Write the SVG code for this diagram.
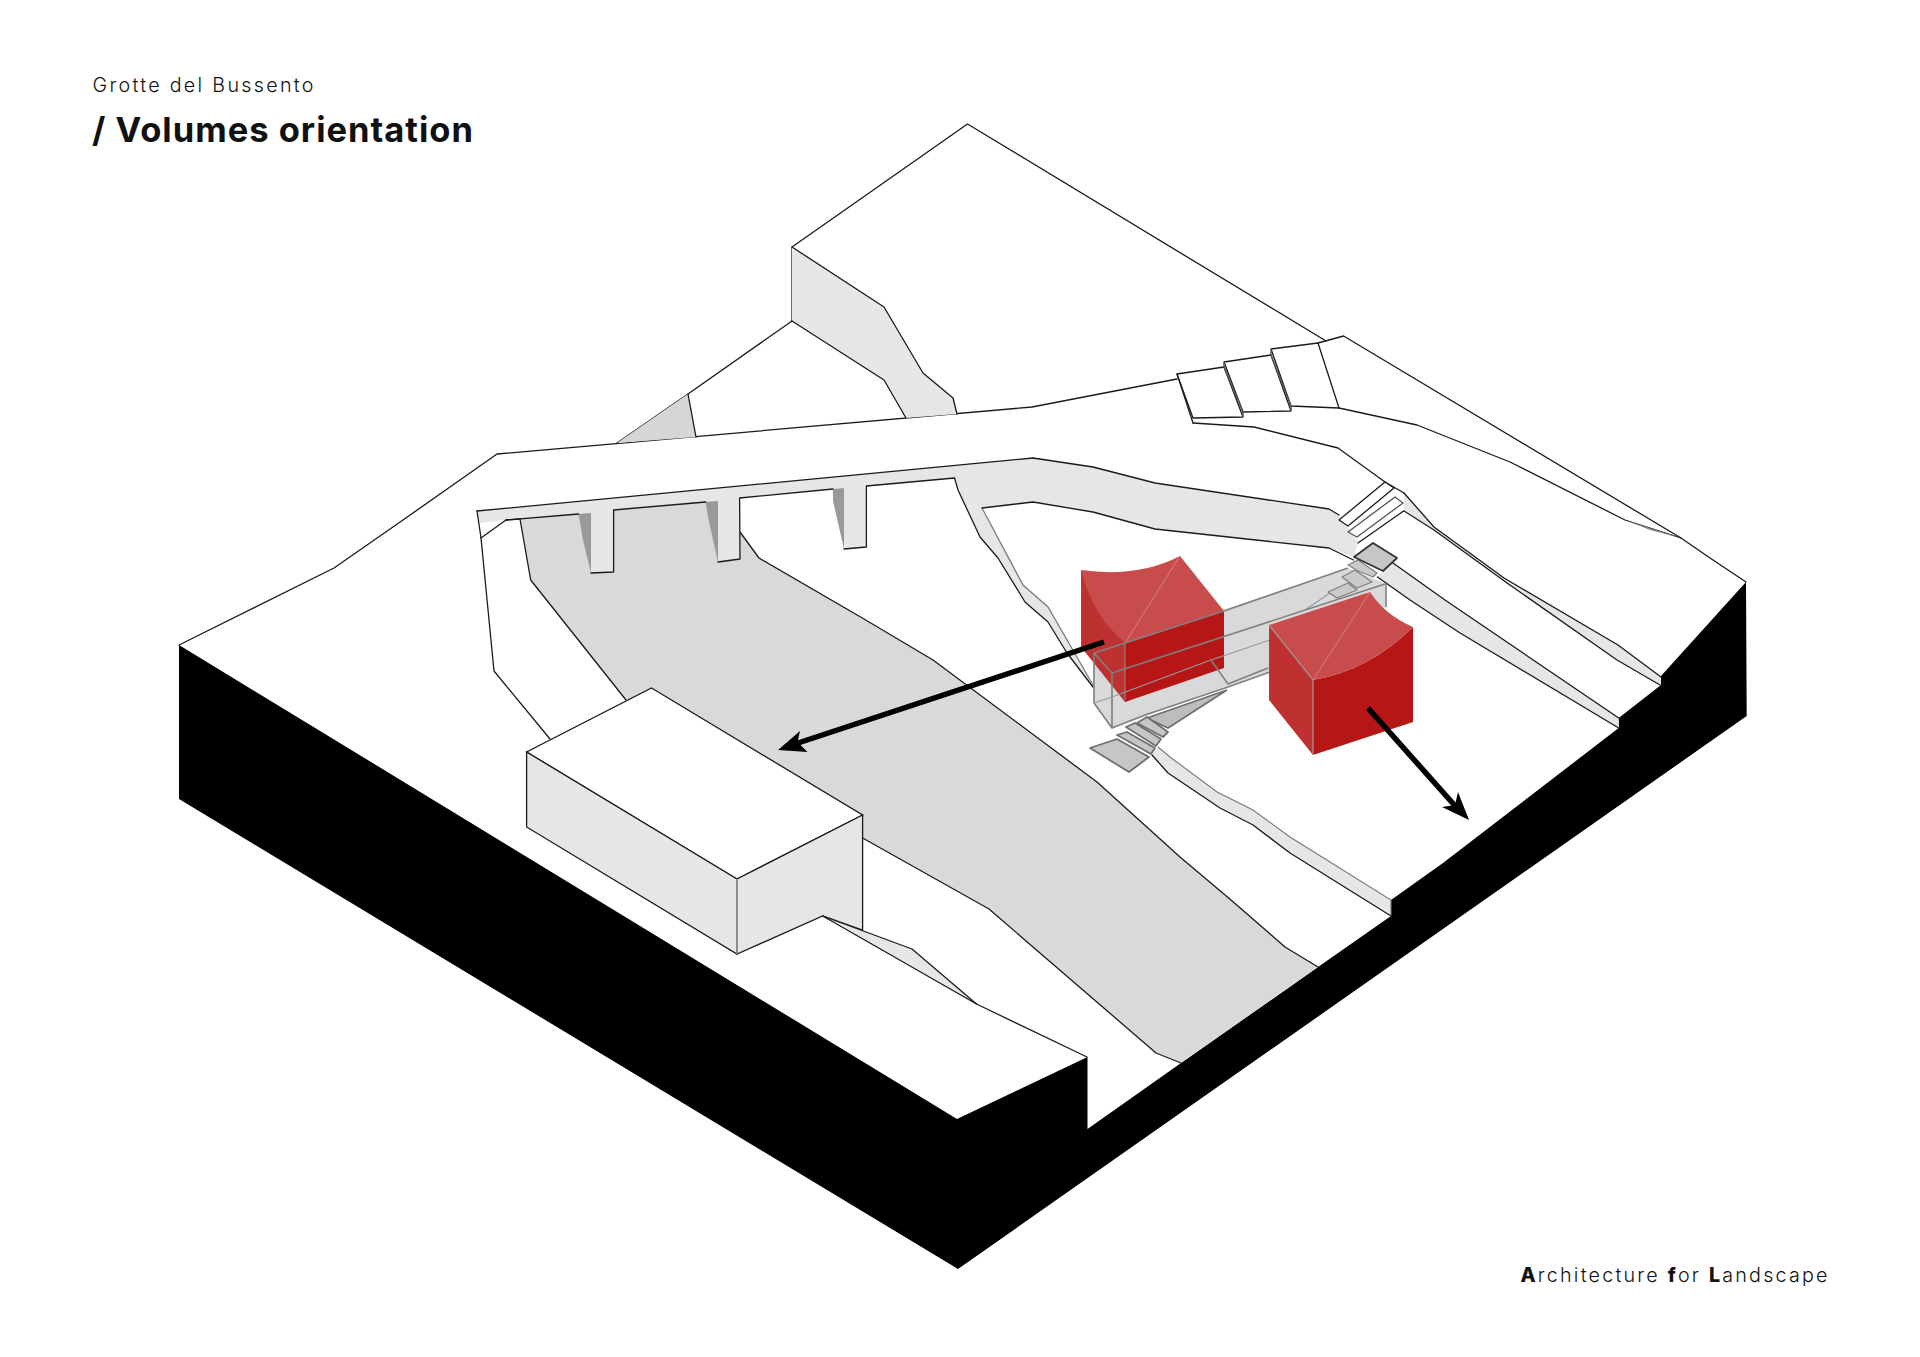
<svg xmlns="http://www.w3.org/2000/svg" width="1920" height="1357" viewBox="0 0 1920 1357">
<style>
.l{fill:none;stroke:#1a1a1a;stroke-width:1.3;stroke-linejoin:round;stroke-linecap:round}
.g{fill:#e6e6e6;stroke:none}
.w{fill:#fff;stroke:#1a1a1a;stroke-width:1.3;stroke-linejoin:round}
.sh{fill:#999;stroke:none}
.pad{fill:#c6c6c6;stroke:#6e6e6e;stroke-width:1.8;stroke-linejoin:round}
.pad2{fill:#cacaca;stroke:#808080;stroke-width:1.3;stroke-linejoin:round}
.gl{fill:none;stroke:#808080;stroke-width:1.6;stroke-linejoin:round}
.gl2{fill:none;stroke:#999;stroke-width:1.2;stroke-linejoin:round}
.t{font-family:"Inter","Open Sans",sans-serif;fill:#111;font-variant-ligatures:none}
.arrow{stroke:#000;stroke-width:5.5;fill:none}
</style>
<rect width="1920" height="1357" fill="#fff"/>

<g id="base">
<polygon fill="#000" points="179,645 957,1119 1087.5,1057 1087.5,1129 1181,1063 1318,967 1391,916 1391,900 1443,863 1618.7,728 1618.7,718 1661,685 1661,676 1746,582 1746.7,716 958,1269 179,799"/>
</g>

<g id="terrain">
<polyline class="l" points="179,645 334,568 403,520 497,454 1032,407 1177,379"/>
<polyline class="l" points="617,443 688,394 792,321"/>
<polygon class="g" points="617,443 688,394 696,437" style="fill:#d6d6d6"/>
<polyline class="l" points="688,394 696,437"/>
<polyline class="l" points="792,321 792,247 967.5,124 1326,341"/>
<polyline class="l" points="1318,343 1343.6,336 1681,538 1710,558 1746,582"/>
<polygon class="g" points="792,247 884,307 923,373 953,398 957,414 906,418 884,380 792,321"/>
<polyline class="l" points="792,247 884,307 923,373 953,398 957,414"/>
<polyline class="l" points="792,321 884,380 906,418"/>
<polyline class="l" points="1339,408 1417,425 1510,462 1625,520 1681,538"/>
<polygon points="1625,520 1681,538 1650,530" fill="#888"/>
<polyline class="l" points="1193,423 1254,427 1338,448 1385,482 1404,493"/>
</g>

<g id="steps-top">
<polygon class="w" points="1177,374 1224,367 1243,417 1193,418"/>
<polygon class="w" points="1224,362 1271,355 1291,411 1243,412"/>
<polygon class="w" points="1271,349 1318,343 1339,408 1291,406"/>
<polyline class="l" points="1177,374 1193,423"/>
<polyline points="1224,362 1224,367 1243,412 1243,417" fill="none" stroke="#555" stroke-width="1.5"/>
<polyline points="1271,349 1271,355 1291,406 1291,411" fill="none" stroke="#555" stroke-width="1.5"/>
</g>

<g id="river">
<polygon fill="#d9d9d9" points="520,519 740,495 740,532 759,558 864,619 933,660 1097,782 1180,857 1231,900 1285,947 1318,967 1181,1063 1156,1053 989,909 862.6,838 800,790 626,700 530.7,580"/>
<polyline class="l" points="520,519 530.7,580 626,700"/>
<polyline class="l" points="740,532 759,558 864,619 933,660 1097,782 1180,857 1231,900 1285,947 1318,967"/>
<polyline class="l" points="862.6,838 989,909 1156,1053 1181,1063"/>
</g>

<g id="road-bridge">
<polygon class="g" points="477,511 1033,458 1093,467 1155,483 1329,509 1339,515 1358,542 1354,557 1329,548 1155,529 1093,512 1033,502 982,508 1023,585 1048,607 1093,685 1067,653 1048,622 1025,602 998,558 980,537 958,490 956,478 866.4,486 866.4,547 844,549 844,488 739.6,498 740,559 718,562 718,501 613.6,510 613.6,572 591,573 591,513 506,520 478.6,523"/>
<polygon class="sh" points="578.6,514 591,513 591,573 583,540"/>
<polygon class="sh" points="705.7,502 718,501 718,562 708,517"/>
<polygon class="sh" points="833,489 844,488 844,549 833,501"/>
<polyline class="l" points="477,511 1033,458 1093,467 1155,483 1329,509 1339,515"/>
<polyline class="l" points="506,520 578.6,514"/>
<polyline class="l" points="591,573 613.6,572 613.6,510 705.7,502"/>
<polyline class="l" points="718,562 740,559 739.6,498 833,489"/>
<polyline class="l" points="844,549 866.4,547 866.4,486 954.6,478 958,490 980,537 998,558 1025,602 1048,622 1067,653 1093,687"/>
<polyline class="l" points="477,511 481,538 494,671 550,739"/>
<polyline class="l" points="481,538 506,520 520,519"/>
<polyline points="982,508 1023,585 1048,607 1093,685" fill="none" stroke="#777" stroke-width="1.2"/>
<polyline class="l" points="982,508 1033,502 1093,512 1155,529 1329,548 1353.5,560"/>
</g>

<g id="crossings">
<polygon class="w" points="1385,482 1339,520 1348,526 1394,488"/>
<polygon class="w" points="1395,497 1403,503 1357,537 1348,532" style="stroke:#555"/>
<polyline class="l" points="1405,510 1358,543"/>
</g>

<g id="side-roads">
<polygon class="g" points="1404,493 1434,527 1504,578 1618,645 1661,677 1661,685 1617,660 1507,583 1434,530 1404,511"/>
<polyline class="l" points="1404,493 1434,527 1504,578 1618,645 1661,677"/>
<polyline class="l" points="1404,511 1434,530 1507,583 1617,660 1660,685"/>
<polygon class="g" points="1393,563 1445,600 1618.7,718 1618.7,728 1460,633 1410,600 1377.5,577"/>
<polyline class="l" points="1393,563 1445,600 1618.7,718"/>
<polyline class="l" points="1377.5,577 1410,600 1460,633 1618.7,728"/>
<polygon class="g" points="1158,747 1170,757 1217,792 1253,810 1290,837 1391,900 1391,916 1290,853 1253,825 1220,808 1168,773 1152,755"/>
<polyline points="1158,747 1170,757 1217,792 1253,810 1290,837 1391,900 1391,916" fill="none" stroke="#777" stroke-width="1.1"/>
<polyline class="l" points="1152,755 1168,773 1220,808 1253,825 1290,853 1391,916"/>
</g>

<g id="building">
<polygon fill="#fff" stroke="#1a1a1a" stroke-width="1.3" points="651.5,688 862.6,815 737,879 526.6,752"/>
<polygon fill="#e6e6e6" stroke="#1a1a1a" stroke-width="1.3" points="526.6,752 737,879 737,954 526.6,827"/>
<polygon fill="#e6e6e6" stroke="#1a1a1a" stroke-width="1.3" points="737,879 862.6,815 862.6,930 822.7,916 737,954"/>
<line x1="737" y1="879" x2="737" y2="954" stroke="#aaa" stroke-width="1.4"/>
<polygon class="g" points="822.7,916 912,949 976.5,1004"/>
<polyline class="l" points="822.7,916 912,949 976.5,1004 1087,1057"/>
<polyline class="l" points="822.7,916 976.5,1004"/>
</g>

<g id="glass-back">
<polygon fill="#d9d9d9" points="1094,653 1348,568 1386,584 1386,607 1300,660 1270,672 1112,728 1094,703"/>
<polygon fill="#bdbdbd" stroke="#6e6e6e" stroke-width="1.6" points="1147,718 1227,690 1168,728"/>
<polyline class="gl2" points="1305,610 1330,593"/>
<polygon class="pad2" points="1328,592 1348,583 1357,590 1337,598"/>
<polygon class="pad2" points="1342,577 1355,570 1372,582 1357,588"/>
<polygon class="pad2" points="1348,565 1358,560 1377,573 1373,577 1358,571"/>
</g>

<g id="volume-left">
<path fill="#bf3030" d="M1081,570 L1125,643 L1125,702 L1081,647 Z"/>
<path fill="#b71616" d="M1125,643 L1224,611 L1224,668 L1125,702 Z"/>
<path fill="#c94c4c" d="M1081,570 Q1138,578 1180,556 L1224,611 L1125,643 Q1092,615 1081,570 Z"/>
<line x1="1125" y1="643" x2="1180" y2="556" stroke="#d88080" stroke-width="1"/>
</g>

<g id="glass-front">
<polyline class="gl" points="1094,653 1125,643 1224,611 1348,568"/>
<polyline class="gl" points="1112,673 1385,584"/>
<polyline class="gl" points="1094,653 1112,673 1112,728 1094,703 1094,653"/>
<polyline class="gl" points="1112,728 1145,715 1228,687 1270,672"/>
<polyline class="gl2" points="1094,703 1112,697 1211,660 1270,640"/>
<polyline class="gl" points="1211,660 1228,684 1268,668"/>
<polyline class="gl" points="1386,584 1386,607"/>
<line x1="1125" y1="643" x2="1125" y2="700" stroke="#888" stroke-width="1.2"/>
</g>

<g id="pads">
<polygon class="pad" points="1354,557 1373,543 1397,558 1383,571" style="stroke:#333"/>
<polygon class="pad" points="1090,748 1117,739 1149,757 1129,772"/>
<polygon class="pad" points="1117,735 1127,732 1155,748 1151,754"/>
<polygon class="pad" points="1126,727 1135,723 1161,739 1156,746"/>
<polygon class="pad" points="1137,723 1147,717 1168,732 1163,737"/>
</g>

<g id="volume-right">
<path fill="#bf3030" d="M1269,625 L1313,680 L1313,755 L1269,700 Z"/>
<path fill="#b71616" d="M1313,680 Q1370,670 1413,627 L1413,722 L1313,755 Z"/>
<path fill="#c94c4c" d="M1269,625 L1370,592 Q1385,615 1413,627 Q1370,670 1313,680 Z"/>
<line x1="1313" y1="680" x2="1370" y2="592" stroke="#d88080" stroke-width="1"/>
<polyline points="1269,625 1313,680 1313,755" fill="none" stroke="#999" stroke-width="1.2"/>
</g>

<g id="connectors">
<line class="arrow" x1="1104" y1="642" x2="795" y2="744"/>
<polygon fill="#000" points="778,750 800,731 797.5,742 807.5,752"/>
<line class="arrow" x1="1368" y1="708" x2="1457" y2="808"/>
<polygon fill="#000" points="1469,820 1458,792 1455,805 1442,807"/>
</g>

<g id="labels">
<text class="t" x="92.5" y="91.5" font-size="19.7" font-weight="300" textLength="221" lengthAdjust="spacing">Grotte del Bussento</text>
<text class="t" x="92" y="141.5" font-size="34.5" font-weight="700" textLength="381" lengthAdjust="spacing">/ Volumes orientation</text>
<text class="t" x="1520.5" y="1282" font-size="19.7" font-weight="300" textLength="307" lengthAdjust="spacing"><tspan font-weight="800">A</tspan>rchitecture <tspan font-weight="800">f</tspan>or <tspan font-weight="800">L</tspan>andscape</text>
</g>
</svg>
